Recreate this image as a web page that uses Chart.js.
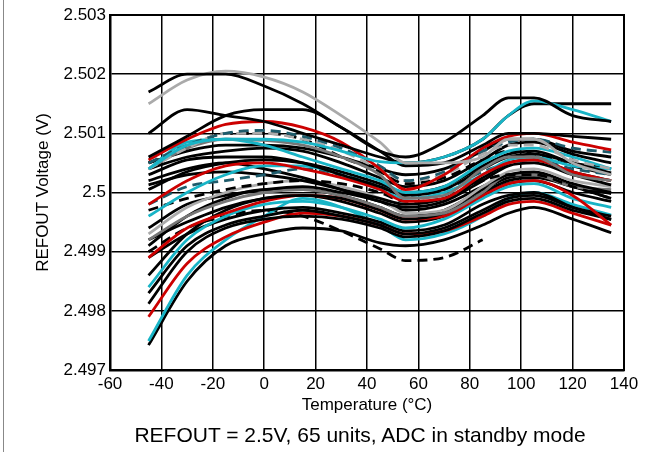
<!DOCTYPE html>
<html>
<head>
<meta charset="utf-8">
<script src="https://cdn.jsdelivr.net/npm/chart.js@4"></script>
<style>
  html, body { margin: 0; padding: 0; background: #fff; }
  #wrap { position: relative; width: 662px; height: 452px; overflow: hidden; }
  #edge { position: absolute; left: 3px; top: 0; width: 1px; height: 452px; background: #888; }
  #caption {
    position: absolute; left: 100px; width: 520px; top: 422px;
    text-align: center; white-space: nowrap;
    font: 21px/25px Arial, "Liberation Sans", sans-serif; color: #000;
  }
</style>
</head>
<body>
<div id="wrap">
  <div id="edge"></div>
  <canvas id="chart"></canvas>
  <div id="caption">REFOUT = 2.5V, 65 units, ADC in standby mode</div>
</div>
<script>
// temperature points (°C)
const temps = [-45, -30, -15, 0, 15, 30, 45, 55, 70, 85, 95, 105, 120, 135];

const xTicks = [-60, -40, -20, 0, 20, 40, 60, 80, 100, 120, 140];
const yTicks = [2.497, 2.498, 2.499, 2.5, 2.501, 2.502, 2.503];

// unit curves, REFOUT (V)
const u01 = [2.5017, 2.5020, 2.5020, 2.5018, 2.5015, 2.5011, 2.5007, 2.5006, 2.50085, 2.5013, 2.5016, 2.5016, 2.5013, 2.5012];
const u02 = [2.5015, 2.5019, 2.50205, 2.50195, 2.5017, 2.5013, 2.50085, 2.5005, 2.5005, 2.5006, 2.5009, 2.5009, 2.5005, 2.5003];
const u03 = [2.5004, 2.5008, 2.5009, 2.5009, 2.50085, 2.5007, 2.50052, 2.5005, 2.5006, 2.5009, 2.5013, 2.50155, 2.5014, 2.5012];
const u04 = [2.5010, 2.5014, 2.5013, 2.5012, 2.5010, 2.5008, 2.5006, 2.5005, 2.5006, 2.5009, 2.5013, 2.5015, 2.5015, 2.5015];
const u05 = [2.5006, 2.50095, 2.5013, 2.5014, 2.5014, 2.5011, 2.5007, 2.50045, 2.5005, 2.5008, 2.5010, 2.5010, 2.50095, 2.5009];
const u06 = [2.50055, 2.5009, 2.50115, 2.5012, 2.5011, 2.50085, 2.5004, 2.50005, 2.5003, 2.50075, 2.50095, 2.5010, 2.50085, 2.50072];
const u07 = [2.5005, 2.5008, 2.5010, 2.50105, 2.50095, 2.50075, 2.50045, 2.5002, 2.50035, 2.5007, 2.50085, 2.5009, 2.50075, 2.50068];
const u08 = [2.5004, 2.50075, 2.5010, 2.5010, 2.5009, 2.5007, 2.5004, 2.5002, 2.5003, 2.50065, 2.5008, 2.5008, 2.50055, 2.5004];
const u09 = [2.5004, 2.50075, 2.5009, 2.50088, 2.5008, 2.5006, 2.5003, 2.4999, 2.49995, 2.5004, 2.5006, 2.5006, 2.5003, 2.5002];
const u10 = [2.5004, 2.50085, 2.5009, 2.5008, 2.5006, 2.5004, 2.5002, 2.5000, 2.5001, 2.5005, 2.5007, 2.50075, 2.5006, 2.5004];
const u11 = [2.5005, 2.5007, 2.5008, 2.5008, 2.50075, 2.5006, 2.5004, 2.5003, 2.5004, 2.5007, 2.5009, 2.5009, 2.5007, 2.5006];
const u12 = [2.5003, 2.50055, 2.5006, 2.5006, 2.5005, 2.5003, 2.5001, 2.49995, 2.50005, 2.5004, 2.5006, 2.50065, 2.5005, 2.50033];
const u13 = [2.4998, 2.5002, 2.50045, 2.5005, 2.5004, 2.50025, 2.50005, 2.49985, 2.4999, 2.5003, 2.5005, 2.50055, 2.50035, 2.5002];
const u14 = [2.4996, 2.5000, 2.5003, 2.50045, 2.50045, 2.5003, 2.50005, 2.4999, 2.5000, 2.5003, 2.50055, 2.5006, 2.50045, 2.5004];
const u15 = [2.4998, 2.5001, 2.5002, 2.5003, 2.5004, 2.5003, 2.5001, 2.49995, 2.50005, 2.50035, 2.5005, 2.50055, 2.5004, 2.5003];
const u16 = [2.5002, 2.5004, 2.5005, 2.5004, 2.50025, 2.50005, 2.49985, 2.49975, 2.49985, 2.5002, 2.50045, 2.5005, 2.5003, 2.50013];
const u17 = [2.50013, 2.5003, 2.50035, 2.5003, 2.5002, 2.50005, 2.4999, 2.4998, 2.4999, 2.50025, 2.5005, 2.50055, 2.50035, 2.5002];
const u18 = [2.4997, 2.4999, 2.50005, 2.50015, 2.5002, 2.50015, 2.5000, 2.49985, 2.4999, 2.5002, 2.5003, 2.5003, 2.5001, 2.4999];
const u19 = [2.4993, 2.49975, 2.5000, 2.50015, 2.5002, 2.5001, 2.4999, 2.49965, 2.4997, 2.5001, 2.50035, 2.5004, 2.5002, 2.5001];
const u20 = [2.4994, 2.4998, 2.49995, 2.50005, 2.5001, 2.5000, 2.49985, 2.4997, 2.4998, 2.5001, 2.5003, 2.50035, 2.50015, 2.5000];
const u21 = [2.4992, 2.4996, 2.49985, 2.5000, 2.50005, 2.49995, 2.49975, 2.4996, 2.49965, 2.5000, 2.5003, 2.5003, 2.5001, 2.50005];
const u22 = [2.4992, 2.4995, 2.49975, 2.4999, 2.49995, 2.4999, 2.4997, 2.49955, 2.49965, 2.5000, 2.5002, 2.50025, 2.5001, 2.4999];
const u23 = [2.4989, 2.4994, 2.49965, 2.49985, 2.49995, 2.4999, 2.4997, 2.49955, 2.4996, 2.49995, 2.50015, 2.5002, 2.49995, 2.49945];
const u24 = [2.4984, 2.4992, 2.4996, 2.4998, 2.49985, 2.49975, 2.49955, 2.4994, 2.49955, 2.4999, 2.5001, 2.50015, 2.4999, 2.49975];
const u25 = [2.4989, 2.4993, 2.49955, 2.4997, 2.49975, 2.49965, 2.4995, 2.49935, 2.49945, 2.4998, 2.49995, 2.5000, 2.49975, 2.49954];
const u26 = [2.4983, 2.4991, 2.49945, 2.4996, 2.4997, 2.4996, 2.49945, 2.4993, 2.4994, 2.4997, 2.4999, 2.49995, 2.49975, 2.4996];
const u27 = [2.49812, 2.4990, 2.4994, 2.49955, 2.4996, 2.49955, 2.4994, 2.49925, 2.49935, 2.49965, 2.49985, 2.4999, 2.4997, 2.49955];
const u28 = [2.4979, 2.4988, 2.49925, 2.4995, 2.49965, 2.4996, 2.49945, 2.4993, 2.49935, 2.4996, 2.4998, 2.49985, 2.49965, 2.49945];
const u29 = [2.49749, 2.4986, 2.4992, 2.4996, 2.4999, 2.49975, 2.49945, 2.4992, 2.4993, 2.4996, 2.4999, 2.5000, 2.4998, 2.49962];
const u30 = [2.49742, 2.4985, 2.4991, 2.4993, 2.4994, 2.49935, 2.49915, 2.4991, 2.4992, 2.49945, 2.49965, 2.49975, 2.49955, 2.49932];
const u31 = [2.4990, 2.4994, 2.4996, 2.4997, 2.4996, 2.49935, 2.49905, 2.49885, 2.4989, 2.4992, null, null, null, null];
const u32 = [2.5005, 2.50075, 2.5010, 2.5010, 2.5009, 2.5006, 2.50035, 2.50015, 2.50025, 2.50055, 2.5007, 2.50065, 2.50045, 2.5003];
const u33 = [2.5004, 2.5006, 2.5007, 2.50075, 2.5007, 2.5005, 2.50025, 2.5001, 2.5002, 2.50055, 2.5008, 2.50085, 2.50065, 2.5005];
const u34 = [2.50005, 2.50035, 2.5005, 2.50055, 2.5005, 2.50035, 2.50015, 2.5000, 2.5001, 2.50045, 2.50065, 2.5007, 2.5005, 2.5004];
const u35 = [2.4991, 2.4996, 2.4999, 2.50005, 2.50005, 2.49995, 2.49975, 2.4996, 2.4997, 2.50005, 2.50025, 2.5003, 2.5001, 2.49998];
const u36 = [2.4986, 2.4993, 2.4997, 2.4999, 2.49995, 2.49985, 2.49965, 2.4995, 2.4996, 2.49995, 2.50015, 2.5002, 2.5000, 2.49985];

const BLACK = "#000000", LGRAY = "#aaaaaa", DGRAY = "#777777",
      RED = "#cc0000", CYAN = "#18b4c6", TEAL = "#1e5b6b";

// [values, colour, dashed]
const units = [
  [u01, BLACK], [u02, LGRAY], [u03, CYAN], [u04, BLACK], [u05, BLACK],
  [u06, RED], [u07, TEAL, true], [u08, LGRAY, true], [u09, DGRAY], [u10, CYAN],
  [u11, BLACK], [u12, BLACK], [u13, RED], [u14, CYAN], [u15, TEAL, true],
  [u16, BLACK], [u17, BLACK], [u18, BLACK, true], [u19, LGRAY], [u20, BLACK],
  [u21, DGRAY], [u22, BLACK], [u23, RED], [u24, CYAN], [u25, BLACK],
  [u26, BLACK], [u27, BLACK], [u28, RED], [u29, CYAN], [u30, BLACK],
  [u31, BLACK, true], [u32, BLACK, true], [u33, BLACK], [u34, BLACK],
  [u35, BLACK], [u36, BLACK]
];

const datasets = units.map(([vals, col, dashed]) => ({
  data: temps.map((t, i) => ({ x: t, y: vals[i] })),
  borderColor: col,
  borderWidth: 2.8,
  borderDash: dashed ? [10, 6] : [],
  pointRadius: 0,
  cubicInterpolationMode: "monotone",
  fill: false
}));

const font = { family: "Arial, 'Liberation Sans', sans-serif" };

new Chart(document.getElementById("chart"), {
  type: "line",
  data: { datasets },
  options: {
    responsive: true,
    maintainAspectRatio: false,
    animation: false,
    layout: { padding: { top: 15, right: 38, left: 4, bottom: 34 } },
    plugins: {
      legend: { display: false },
      tooltip: { enabled: false }
    },
    scales: {
      x: {
        type: "linear",
        min: -60,
        max: 140,
        afterBuildTicks: (s) => { s.ticks = xTicks.map(v => ({ value: v })); },
        afterFit: (s) => { s.height = 48; },
        grid: { color: "#000", lineWidth: 1.5, drawTicks: false },
        border: { color: "#000", width: 2.5 },
        ticks: { color: "#000", font: { ...font, size: 17 }, padding: 4, maxRotation: 0 },
        title: {
          display: true,
          text: "Temperature (°C)",
          color: "#000",
          font: { ...font, size: 17 },
          padding: { top: 0, bottom: 2 }
        }
      },
      y: {
        type: "linear",
        min: 2.497,
        max: 2.503,
        afterBuildTicks: (s) => { s.ticks = yTicks.map(v => ({ value: v })); },
        afterFit: (s) => { s.width = 106; },
        grid: { color: "#000", lineWidth: 1.5, drawTicks: false },
        border: { color: "#000", width: 2.5 },
        ticks: {
          color: "#000",
          font: { ...font, size: 17 },
          padding: 4,
          callback: (v) => String(+v.toFixed(3))
        },
        title: {
          display: true,
          text: "REFOUT Voltage (V)",
          color: "#000",
          font: { ...font, size: 17 },
          padding: { top: 29, bottom: 0 }
        }
      }
    }
  },
  plugins: [{
    id: "frame",
    afterDraw(chart) {
      const { ctx, chartArea: a } = chart;
      ctx.save();
      ctx.strokeStyle = "#000";
      ctx.lineWidth = 2;
      ctx.strokeRect(a.left, a.top, a.right - a.left, a.bottom - a.top);
      ctx.restore();
    }
  }]
});
</script>
</body>
</html>
